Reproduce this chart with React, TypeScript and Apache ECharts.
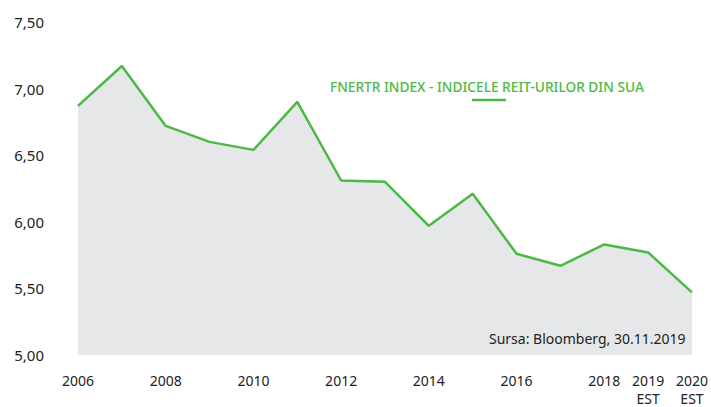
import React, { useEffect, useRef } from "react";
import * as echarts from "echarts";

const years = ["2006", "2007", "2008", "2009", "2010", "2011", "2012", "2013", "2014", "2015", "2016", "2017", "2018", "2019\nEST", "2020\nEST"];
const values = [6.87, 7.17, 6.72, 6.6, 6.54, 6.9, 6.31, 6.3, 5.97, 6.21, 5.76, 5.67, 5.83, 5.77, 5.47];
const shownLabels = [0, 2, 4, 6, 8, 10, 12, 13, 14];
const seriesName = "FNERTR INDEX - INDICELE REIT-URILOR DIN SUA";
const sourceText = "Sursa: Bloomberg, 30.11.2019";

const GREEN = "#4cb944";
const FONT = "Noto Sans";

export default function App() {
  const ref = useRef<HTMLDivElement>(null);
  useEffect(() => {
    document.body.style.margin = "0";
    const chart = echarts.init(ref.current!, null, { renderer: "svg" });
    chart.setOption({
      animation: false,
      grid: { left: 78, right: 14, top: 22, bottom: 51 },
      xAxis: {
        type: "category",
        data: years,
        boundaryGap: false,
        axisLine: { show: false },
        axisTick: { show: false },
        axisLabel: {
          interval: (i: number) => shownLabels.includes(i),
          margin: 16,
          color: "#222",
          fontFamily: FONT,
          fontSize: 14,
          lineHeight: 18,
        },
      },
      yAxis: {
        type: "value",
        min: 5,
        max: 7.5,
        interval: 0.5,
        splitLine: { show: false },
        axisLine: { show: false },
        axisTick: { show: false },
        axisLabel: {
          margin: 34,
          color: "#222",
          fontFamily: FONT,
          fontSize: 15,
          formatter: (v: number) => v.toFixed(2).replace(".", ","),
        },
      },
      series: [
        {
          name: seriesName,
          type: "line",
          data: values,
          symbol: "none",
          lineStyle: { color: GREEN, width: 2.5 },
          areaStyle: { color: "#e6e7e8", opacity: 1, origin: "start" },
        },
      ],
      graphic: [
        {
          type: "text",
          left: 330,
          top: 79,
          z: 100,
          style: { text: seriesName, fill: GREEN, font: `500 13.7px "${FONT}"` },
        },
        {
          type: "line",
          z: 100,
          shape: { x1: 472, y1: 100, x2: 506, y2: 100 },
          style: { stroke: GREEN, lineWidth: 2.5 },
        },
        {
          type: "text",
          left: 489,
          top: 331,
          z: 100,
          style: { text: sourceText, fill: "#222", font: `14px "${FONT}"` },
        },
      ],
    });
    return () => chart.dispose();
  }, []);
  return <div ref={ref} style={{ width: 711, height: 407 }} />;
}
